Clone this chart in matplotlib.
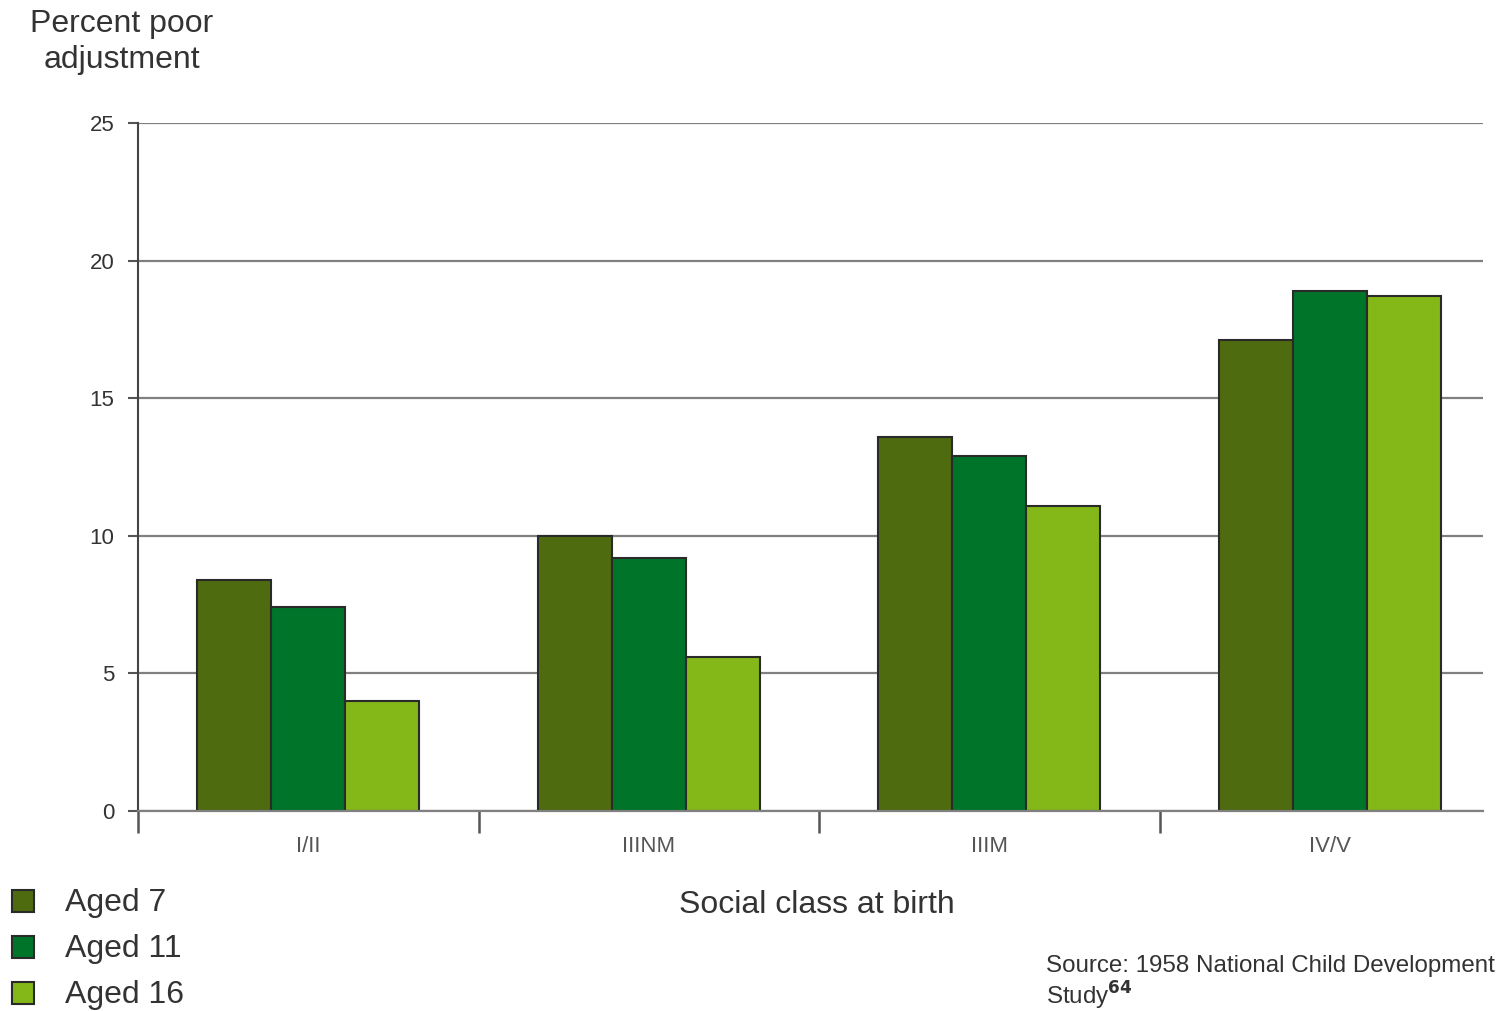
import matplotlib
matplotlib.use('Agg')
import matplotlib.pyplot as plt
import numpy as np

# data
classes = ['I/II', 'IIINM', 'IIIM', 'IV/V']
series = ['Aged 7', 'Aged 11', 'Aged 16']
aged7 = [8.4, 10.0, 13.6, 17.1]
aged11 = [7.4, 9.2, 12.9, 18.9]
aged16 = [4.0, 5.6, 11.1, 18.7]
yticks = [0, 5, 10, 15, 20, 25]

colors = ['#4e6b10', '#00752a', '#84b818']
txt = '#333333'

plt.rcParams['font.family'] = ['Liberation Sans', 'DejaVu Sans']

fig = plt.figure(figsize=(14.97, 10.11), dpi=100)
ax = fig.add_axes([0.0922, 0.1978, 0.8985, 0.6805])

x = np.arange(len(classes))
w = 0.217
for k, vals in enumerate([aged7, aged11, aged16]):
    ax.bar(x + (k - 1) * w, vals, width=w, color=colors[k], edgecolor='#2a2a2a',
           linewidth=1.5, zorder=3, label=series[k])

ax.set_ylim(0, 25)
ax.set_xlim(-0.5, 3.45)
ax.set_yticks(yticks)
ax.yaxis.grid(True, color='#808080', linewidth=1.6, zorder=0)
ax.tick_params(axis='y', length=7, width=1.5, color='#555555', labelsize=16,
               labelcolor=txt, pad=10)

ax.set_xticks(x)
ax.set_xticklabels(classes)
ax.tick_params(axis='x', which='major', length=0, labelsize=16, labelcolor='#555555', pad=18)
ax.set_xticks([-0.5, 0.5, 1.5, 2.5], minor=True)
ax.tick_params(axis='x', which='minor', length=16, width=1.8, color='#555555')

for s in ['top', 'right']:
    ax.spines[s].set_visible(False)
ax.spines['left'].set_color('#444444')
ax.spines['left'].set_linewidth(1.5)
ax.spines['bottom'].set_color('#808080')
ax.spines['bottom'].set_linewidth(1.6)
ax.spines['bottom'].set_zorder(4)

fig.text(122 / 1497, 1 - 42 / 1011, 'Percent poor\nadjustment', ha='center', va='center',
         fontsize=23, color=txt, linespacing=1.3)
fig.text(817 / 1497, 1 - 905 / 1011, 'Social class at birth', ha='center', va='center',
         fontsize=23, color=txt)

# legend drawn by hand as squares + text
for k, name in enumerate(series):
    yy = 1 - (901 + 46 * k) / 1011
    fig.patches.append(matplotlib.patches.Rectangle(
        (12 / 1497, yy - 11 / 1011), 22 / 1497, 22 / 1011, transform=fig.transFigure,
        facecolor=colors[k], edgecolor='#2a2a2a', linewidth=1.5))
    fig.text(65 / 1497, yy - 2 / 1011, name, ha='left', va='center', fontsize=23, color=txt)

fig.text(1046 / 1497, 1 - 966 / 1011, 'Source: 1958 National Child Development',
         ha='left', va='center', fontsize=17.4, color=txt)
fig.text(1046 / 1497, 1 - 996 / 1011, 'Study$^{\\mathbf{64}}$',
         ha='left', va='center', fontsize=17.4, color=txt)

fig.savefig('out.png', dpi=100)
